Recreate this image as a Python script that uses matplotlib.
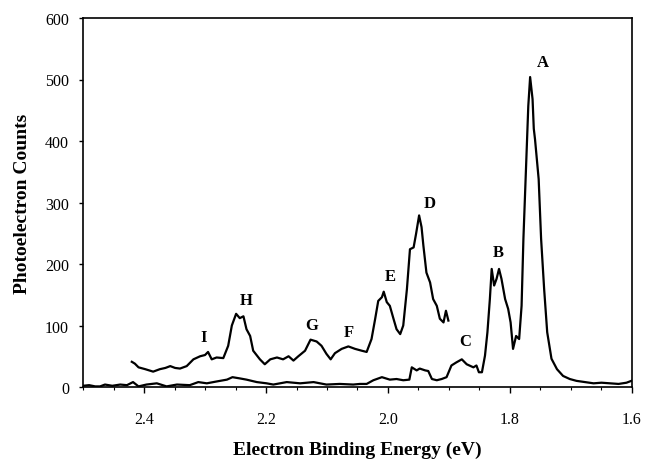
import numpy as np
import matplotlib
matplotlib.use("Agg")
import matplotlib.pyplot as plt
from matplotlib.ticker import MultipleLocator

# upper trace (I..D region)
upper_e = [2.420, 2.415, 2.409, 2.398, 2.385, 2.374, 2.365, 2.357, 2.349, 2.341,
           2.330, 2.319, 2.308, 2.300, 2.295, 2.289, 2.281, 2.270, 2.262, 2.256,
           2.249, 2.243, 2.237, 2.232, 2.226, 2.221, 2.210, 2.202, 2.193, 2.182,
           2.172, 2.163, 2.155, 2.147, 2.136, 2.127, 2.117, 2.109, 2.101, 2.094,
           2.087, 2.076, 2.065, 2.054, 2.043, 2.035, 2.027, 2.021, 2.016, 2.010,
           2.007, 2.002, 1.997, 1.991, 1.986, 1.980, 1.975, 1.969, 1.964, 1.958,
           1.954, 1.949, 1.945, 1.942, 1.937, 1.931, 1.926, 1.920, 1.915, 1.909,
           1.905, 1.901]
upper_counts = [41, 38, 32, 29, 25, 29, 31, 34, 31, 30,
                34, 45, 50, 52, 57, 45, 48, 47, 67, 100,
                119, 112, 115, 94, 83, 59, 45, 37, 45, 48,
                45, 50, 43, 50, 59, 77, 74, 67, 54, 45,
                55, 62, 66, 62, 59, 57, 78, 111, 140, 146,
                155, 138, 132, 111, 94, 86, 100, 159, 224, 227,
                249, 279, 260, 230, 186, 170, 143, 132, 111, 105,
                124, 108]

# lower trace (full range, C B A peaks)
lower_e = [2.500, 2.490, 2.480, 2.472, 2.464, 2.452, 2.439, 2.428, 2.418, 2.409,
           2.396, 2.379, 2.363, 2.346, 2.325, 2.311, 2.297, 2.281, 2.264, 2.255,
           2.243, 2.232, 2.215, 2.199, 2.188, 2.166, 2.144, 2.122, 2.101, 2.079,
           2.057, 2.046, 2.035, 2.024, 2.010, 1.997, 1.986, 1.975, 1.965, 1.961,
           1.953, 1.948, 1.939, 1.934, 1.928, 1.920, 1.912, 1.904, 1.896, 1.888,
           1.879, 1.871, 1.860, 1.855, 1.851, 1.846, 1.841, 1.837, 1.833, 1.830,
           1.826, 1.822, 1.818, 1.814, 1.808, 1.803, 1.799, 1.795, 1.790, 1.785,
           1.781, 1.778, 1.774, 1.770, 1.767, 1.763, 1.761, 1.759, 1.753, 1.749,
           1.744, 1.739, 1.732, 1.723, 1.713, 1.702, 1.691, 1.677, 1.663, 1.650,
           1.636, 1.622, 1.609, 1.601]
lower_counts = [2, 3, 1, 1, 4, 2, 4, 3, 8, 1,
                4, 6, 1, 4, 3, 8, 6, 9, 12, 16,
                14, 12, 8, 6, 4, 8, 6, 8, 4, 5,
                4, 5, 5, 11, 16, 12, 13, 11, 12, 32,
                27, 30, 27, 26, 13, 11, 13, 16, 35, 40,
                45, 37, 32, 35, 24, 24, 51, 89, 143, 192,
                165, 176, 192, 176, 143, 127, 105, 62, 83, 78,
                132, 241, 349, 457, 504, 468, 420, 403, 338, 241,
                159, 89, 46, 29, 18, 13, 10, 8, 6, 7,
                6, 5, 7, 10]

peak_names = ["A", "B", "C", "D", "E", "F", "G", "H", "I"]
peak_e = [1.746, 1.819, 1.874, 1.931, 1.997, 2.065, 2.125, 2.233, 2.302]
peak_y = [529, 219, 74, 300, 181, 89, 101, 142, 82]

plt.rcParams['font.family'] = ['Liberation Serif', 'DejaVu Serif']

fig = plt.figure(figsize=(6.47, 4.60), dpi=100)
ax = fig.add_axes([0.1283, 0.1565, 0.8485, 0.8022])

ax.plot(lower_e, lower_counts, color='black', lw=1.6)
ax.plot(upper_e, upper_counts, color='black', lw=1.6)

for name, e, y in zip(peak_names, peak_e, peak_y):
    ax.text(e, y, name, ha='center', va='center', fontsize=12, fontweight='bold')

ax.set_xlim(2.5, 1.6)
ax.set_ylim(0, 600)
ax.xaxis.set_major_locator(MultipleLocator(0.2))
ax.xaxis.set_minor_locator(MultipleLocator(0.05))
ax.yaxis.set_major_locator(MultipleLocator(100))
ax.set_xticklabels([f"{v:.1f}" for v in ax.get_xticks()])

ax.tick_params(axis='x', which='major', direction='out', length=4, width=1, pad=13, labelsize=11.5)
ax.tick_params(axis='x', which='minor', direction='out', length=2, width=0.8)
ax.tick_params(axis='y', which='major', direction='out', length=3, width=1, pad=7, labelsize=11.5)
for s in ax.spines.values():
    s.set_linewidth(1.2)

ax.set_xlabel('Electron Binding Energy (eV)', fontsize=14, fontweight='bold', labelpad=10)
ax.set_ylabel('Photoelectron Counts', fontsize=14, fontweight='bold', labelpad=10)

fig.savefig('out.png', dpi=100)
